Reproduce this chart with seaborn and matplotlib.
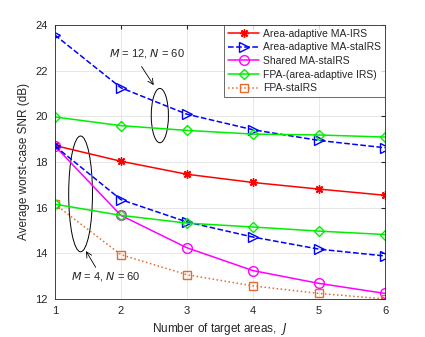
import numpy as np
import pandas as pd
import matplotlib
matplotlib.use('Agg')
import matplotlib.pyplot as plt
import seaborn as sns
from matplotlib.patches import Ellipse

# Data
J = [1, 2, 3, 4, 5, 6]
ma_irs = [18.72, 18.03, 17.46, 17.10, 16.81, 16.54]
ma_sta_m12 = [23.56, 21.25, 20.09, 19.41, 18.94, 18.62]
fpa_m12 = [19.97, 19.59, 19.38, 19.22, 19.18, 19.09]
ma_sta_m4 = [18.70, 16.35, 15.37, 14.71, 14.18, 13.88]
fpa_m4 = [16.15, 15.66, 15.32, 15.15, 14.97, 14.82]
shared_sta = [18.70, 15.66, 14.24, 13.24, 12.68, 12.24]
fpa_sta = [16.15, 13.94, 13.06, 12.57, 12.24, 12.00]

yticks = [12, 14, 16, 18, 20, 22, 24]

sns.set_style('whitegrid')
plt.rcParams['font.family'] = ['Liberation Sans', 'DejaVu Sans']

fig = plt.figure(figsize=(4.25, 3.37), dpi=100)
ax = fig.add_axes([0.129, 0.113, 0.777, 0.813])

series = [
    (ma_irs, 'Area-adaptive MA-IRS', 'red', '-', (8, 2, 0), True),
    (ma_sta_m12, 'Area-adaptive MA-staIRS', 'blue', '--', '>', True),
    (shared_sta, 'Shared MA-staIRS', 'magenta', '-', 'o', True),
    (fpa_m12, 'FPA-(area-adaptive IRS)', '#00ee00', '-', 'D', True),
    (fpa_sta, 'FPA-staIRS', '#e8692a', ':', 's', True),
    (ma_sta_m4, None, 'blue', '--', '>', False),
    (fpa_m4, None, '#00ee00', '-', 'D', False),
]

for vals, name, col, ls, mk, in_leg in series:
    df = pd.DataFrame({'J': J, 'snr': vals})
    ms = 7.5 if mk == '>' else 7 if mk == 'o' else 6
    if mk == 'D':
        ms = 5.5
    sns.lineplot(data=df, x='J', y='snr', ax=ax, color=col, linestyle=ls,
                 linewidth=1.1, marker=mk, markersize=ms,
                 markerfacecolor='none', markeredgecolor=col,
                 markeredgewidth=1.0, label=name if in_leg else None,
                 legend=False)

# ellipses and annotations
ax.add_patch(Ellipse((2.59, 20.03), 0.26, 2.38, fill=False, color='black', lw=0.7))
ax.add_patch(Ellipse((1.39, 16.6), 0.36, 5.07, fill=False, color='black', lw=0.7))
ax.annotate('', xy=(2.52, 21.26), xytext=(2.29, 22.28),
            arrowprops=dict(arrowstyle='->', color='black', lw=0.6))
ax.annotate('', xy=(1.45, 14.2), xytext=(1.64, 13.28),
            arrowprops=dict(arrowstyle='->', color='black', lw=0.6))
ax.text(2.39, 22.76, r'$M$ = 12, $N$ = 60', ha='center', va='center', fontsize=8)
ax.text(1.77, 12.97, r'$M$ = 4, $N$ = 60', ha='center', va='center', fontsize=8)

ax.set_xlim(1, 6)
ax.set_ylim(12, 24)
ax.set_xticks(J)
ax.set_yticks(yticks)
ax.set_xlabel(r'Number of target areas,  $J$', fontsize=8.5, color='#262626')
ax.set_ylabel('Average worst-case SNR (dB)', fontsize=8.5, color='#262626')
ax.tick_params(direction='in', labelsize=8, colors='#262626', length=3,
               top=True, right=True, pad=5)
ax.grid(True, color='#e3e3e3', linewidth=0.6)
for sp in ax.spines.values():
    sp.set_color('#262626')
    sp.set_linewidth(0.6)

leg = ax.legend(loc='upper right', fontsize=7.5, frameon=True, fancybox=False,
                edgecolor='#262626', borderpad=0.35, labelspacing=0.35,
                handlelength=3.0, handletextpad=0.4, borderaxespad=0.0)
leg.get_frame().set_linewidth(0.6)

plt.savefig('out.png', dpi=100)
plt.close()
